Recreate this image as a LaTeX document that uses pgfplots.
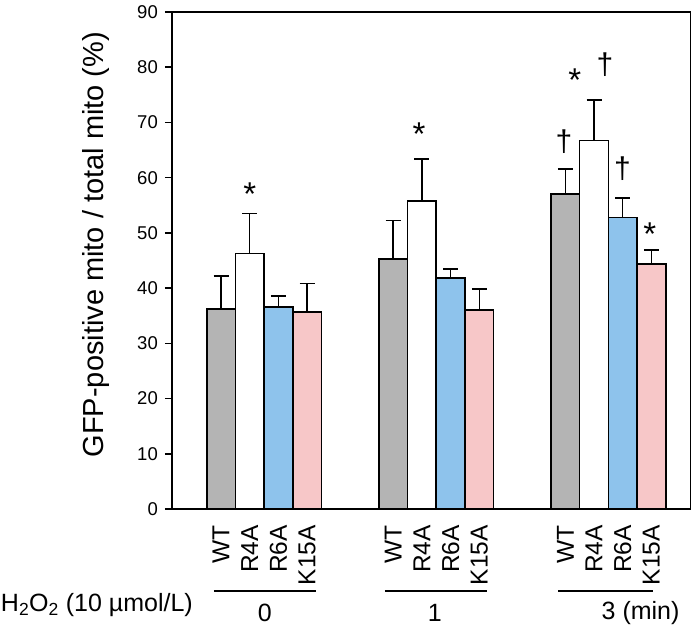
\documentclass[border=0pt]{standalone}
\usepackage{pgfplots}
\pgfplotsset{compat=1.18}
\usepackage{fontspec}
\setmainfont{Liberation Sans}
\definecolor{cgray}{RGB}{180,180,180}
\definecolor{cblue}{RGB}{142,195,236}
\definecolor{cpink}{RGB}{247,199,200}
\newcommand{\fs}[1]{\fontsize{#1bp}{#1bp}\selectfont}
\begin{document}
\begin{tikzpicture}
\begin{axis}[
  name=ax,
  scale only axis, width=518.7bp, height=497bp,
  xmin=-1.71, xmax=16.37, ymin=0, ymax=90,
  ytick={0,10,...,90},
  xtick={0,1,2,3,6,7,8,9,12,13,14,15},
  xticklabels={WT,R4A,R6A,K15A,WT,R4A,R6A,K15A,WT,R4A,R6A,K15A},
  xticklabel style={rotate=90, anchor=east, font=\fs{24.5}, inner sep=0pt},
  xticklabel shift=9bp,
  yticklabel style={font=\fs{18.5}, inner sep=0pt, xshift=-7bp},
  /pgf/number format/assume math mode=true,
  tick align=outside, ytick pos=left, major tick length=7bp,
  x tick style={draw=none},
  y tick style={line width=1.5bp, black},
  axis line style={line width=1.5bp, black},
  every axis y label/.style={at={(axis description cs:-0.1467,0.532)}, rotate=90, anchor=center, font=\fs{29}},
  ylabel={GFP-positive mito / total mito (\%)},
  clip=false,
  error bars/y dir=plus, error bars/y explicit,
  error bars/error mark=-,
  error bars/error bar style={line width=1.5bp, black},
  error bars/error mark options={rotate=90, line width=1.5bp, black, mark size=7.5bp},
]
\addplot[ybar, bar width=28.7bp, bar shift=0pt, fill=cgray, draw=black, line width=1.6bp]
  table[x=x, y=y, y error=e] {
x y e
0 36.2 6.0
6 45.3 6.9
12 57.0 4.6
};
\addplot[ybar, bar width=28.7bp, bar shift=0pt, fill=white, draw=black, line width=1.6bp]
  table[x=x, y=y, y error=e] {
x y e
1 46.3 7.2
7 55.8 7.6
13 66.7 7.4
};
\addplot[ybar, bar width=28.7bp, bar shift=0pt, fill=cblue, draw=black, line width=1.6bp]
  table[x=x, y=y, y error=e] {
x y e
2 36.6 2.0
8 41.8 1.7
14 52.8 3.5
};
\addplot[ybar, bar width=28.7bp, bar shift=0pt, fill=cpink, draw=black, line width=1.6bp]
  table[x=x, y=y, y error=e] {
x y e
3 35.7 5.1
9 36.0 3.8
15 44.4 2.5
};
% significance marks
\node[font=\fs{33}, yshift=-7bp] at (axis cs:1,58.2) {*};
\node[font=\fs{33}, yshift=-7bp] at (axis cs:6.9,69.1) {*};
\node[font=\fs{33}, yshift=-7bp] at (axis cs:12.33,78.9) {*};
\node[font=\fs{33}, yshift=-7bp] at (axis cs:14.94,51.1) {*};
\node[font=\fs{30}] at (axis cs:11.95,66.5) {†};
\node[font=\fs{30}] at (axis cs:13.38,80.4) {†};
\node[font=\fs{30}] at (axis cs:13.99,61.6) {†};
% group lines and labels
\draw[line width=1.6bp] ([yshift=-81.7bp]axis cs:-0.25,0) -- ([yshift=-81.7bp]axis cs:3.31,0);
\draw[line width=1.6bp] ([yshift=-81.7bp]axis cs:5.71,0) -- ([yshift=-81.7bp]axis cs:9.26,0);
\draw[line width=1.6bp] ([yshift=-81.7bp]axis cs:11.75,0) -- ([yshift=-81.7bp]axis cs:15.06,0);
\node[font=\fs{25}, inner sep=0pt] at ([yshift=-104.3bp]axis cs:1.53,0) {0};
\node[font=\fs{25}, inner sep=0pt] at ([yshift=-104.3bp]axis cs:7.45,0) {1};
\node[font=\fs{25}, inner sep=0pt, anchor=west] at ([yshift=-104.3bp]axis cs:13.26,0) {3 (min)};
\node[font=\fs{25}, inner sep=0pt, anchor=east] at ([xshift=21bp, yshift=-96bp]rel axis cs:0,0) {H\textsubscript{2}O\textsubscript{2} (10 µmol/L)};
\end{axis}
\pgfresetboundingbox
\path[use as bounding box] ([xshift=-172bp,yshift=-119bp]ax.south west) rectangle ([xshift=2.3bp,yshift=12bp]ax.north east);
\end{tikzpicture}
\end{document}
